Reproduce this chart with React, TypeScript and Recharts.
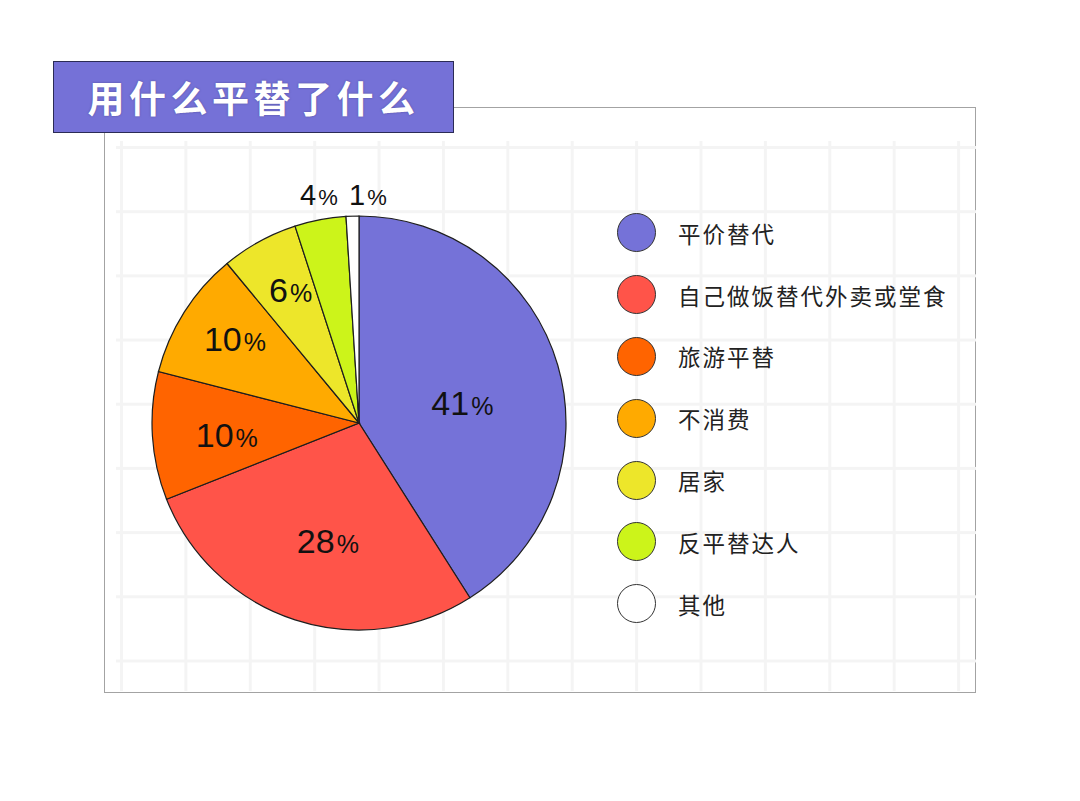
import { Legend, Pie, PieChart, Cell } from "recharts";

const categories = ["平价替代", "自己做饭替代外卖或堂食", "旅游平替", "不消费", "居家", "反平替达人", "其他"];
const shares = [41, 28, 10, 10, 6, 4, 1];
const colors = ["#7572d8", "#ff5449", "#ff6400", "#ffaa00", "#ede62a", "#ccf41a", "#ffffff"];

const data = categories.map((name, i) => ({ name, value: shares[i] }));

const RADIAN = Math.PI / 180;
// label placement per slice: radius factor + nudge, inner labels bigger
const labelPos = [
  { r: 0.52, dx: 0, dy: 22, big: true },
  { r: 0.58, dx: 6, dy: 16, big: true },
  { r: 0.64, dx: 0, dy: 16, big: true },
  { r: 0.71, dx: 0, dy: 7, big: true },
  { r: 0.725, dx: 4, dy: 11, big: true },
  { r: 1.11, dx: 3, dy: 8, big: false },
  { r: 1.09, dx: 16, dy: 8, big: false },
];

function renderLabel(props: any) {
  const { cx, cy, midAngle, outerRadius, index, value } = props;
  const p = labelPos[index];
  const r = outerRadius * p.r;
  const x = cx + r * Math.cos(-midAngle * RADIAN) + p.dx;
  const y = cy + r * Math.sin(-midAngle * RADIAN) + p.dy;
  return (
    <text
      x={x}
      y={y}
      textAnchor="middle"
      fill="#111"
      fontFamily="'Liberation Sans', Arial, sans-serif"
    >
      <tspan fontSize={p.big ? 34 : 29}>{value}</tspan>
      <tspan fontSize={p.big ? 25 : 22} dx={2}>%</tspan>
    </text>
  );
}

function LegendList() {
  return (
    <div style={{ fontFamily: "'Noto Sans CJK SC', sans-serif" }}>
      {data.map((d, i) => (
        <div key={d.name} style={{ display: "flex", alignItems: "center", height: 61.8 }}>
          <span
            style={{
              width: 39,
              height: 39,
              borderRadius: "50%",
              background: colors[i],
              border: "1.5px solid #333",
              boxSizing: "border-box",
              display: "inline-block",
              flexShrink: 0,
            }}
          />
          <span style={{ marginLeft: 22, fontSize: 22.5, color: "#222", letterSpacing: 2 }}>{d.name}</span>
        </div>
      ))}
    </div>
  );
}

export default function App() {
  return (
    <div style={{ position: "absolute", left: 0, top: 0, width: 1080, height: 801, background: "#fff", overflow: "hidden" }}>
      <div
        style={{
          position: "absolute",
          left: 104,
          top: 107,
          width: 872,
          height: 586,
          border: "1.5px solid #a3a3a3",
          boxSizing: "border-box",
        }}
      >
        <div
          style={{
            position: "absolute",
            left: 11,
            top: 33,
            width: 860,
            height: 550,
            backgroundImage:
              "linear-gradient(to right, #f4f4f4 0 3px, transparent 3px), linear-gradient(to bottom, #f4f4f4 0 3px, transparent 3px)",
            backgroundSize: "64.4px 64.2px",
            backgroundPosition: "4px 5px",
          }}
        />
      </div>
      <div
        style={{
          position: "absolute",
          left: 53,
          top: 61,
          width: 401,
          height: 72,
          background: "#7571d7",
          border: "1.5px solid #2b2b55",
          boxSizing: "border-box",
          display: "flex",
          alignItems: "center",
          justifyContent: "center",
          color: "#fff",
          fontFamily: "'Noto Sans CJK SC', sans-serif",
          fontWeight: 700,
          fontSize: 37,
          letterSpacing: 4.5,
          textShadow: "0 0 2px rgba(40,40,90,0.5)",
        }}
      >
        用什么平替了什么
      </div>
      <div style={{ position: "absolute", left: 0, top: 0 }}>
        <PieChart width={1080} height={801} margin={{ top: 0, right: 0, bottom: 0, left: 0 }}>
          <Pie
            data={data}
            dataKey="value"
            nameKey="name"
            cx={359}
            cy={423}
            outerRadius={207}
            startAngle={90}
            endAngle={-270}
            stroke="#1e1e1e"
            strokeWidth={1.2}
            label={renderLabel}
            labelLine={false}
            isAnimationActive={false}
          >
            {data.map((d, i) => (
              <Cell key={d.name} fill={colors[i]} />
            ))}
          </Pie>
          <Legend
            content={<LegendList />}
            wrapperStyle={{ position: "absolute", left: 617, top: 202, width: 380 }}
          />
        </PieChart>
      </div>
    </div>
  );
}
